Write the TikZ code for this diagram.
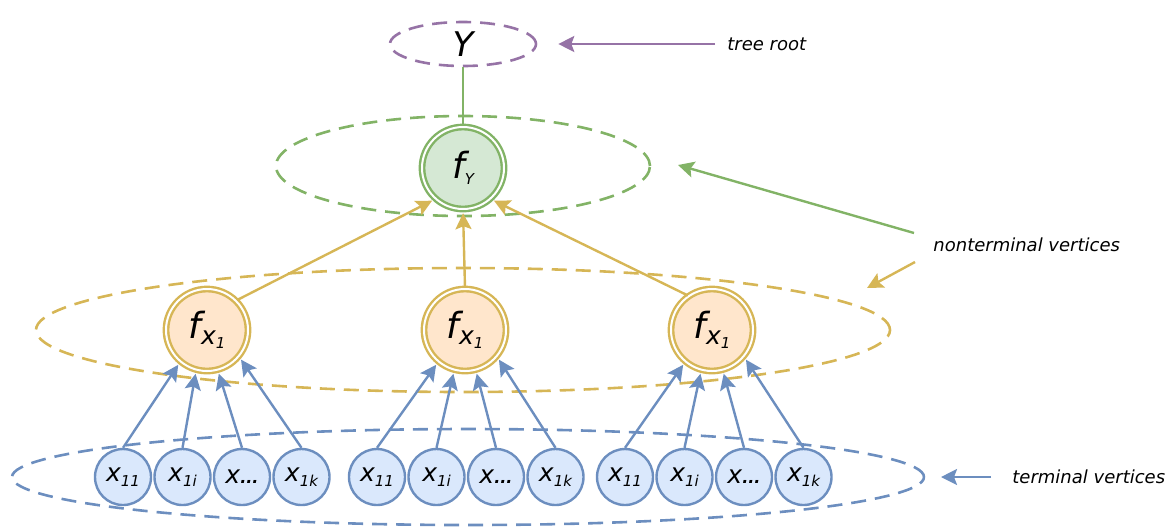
\documentclass[tikz,border=0pt]{standalone}
\usepackage{fontspec}
\setmainfont{DejaVu Sans}
\usetikzlibrary{shapes.geometric,arrows.meta}

\definecolor{purpleline}{HTML}{9673A6}
\definecolor{greenline}{HTML}{82B366}
\definecolor{greenfill}{HTML}{D5E8D4}
\definecolor{yellowline}{HTML}{D6B656}
\definecolor{yellowfill}{HTML}{FFE6CC}
\definecolor{blueline}{HTML}{6C8EBF}
\definecolor{bluefill}{HTML}{DAE8FC}

\newcommand{\xvar}[1]{{\fontsize{12.5}{14}\selectfont\itshape x\raisebox{-2.5pt}{\fontsize{7.5}{9}\selectfont #1}}}
\newcommand{\xdots}{{\fontsize{12.5}{14}\selectfont\itshape x{\fontsize{8}{9}\selectfont\bfseries ...}}}
\newcommand{\fvar}[1]{{\fontsize{18}{20}\selectfont\itshape f\raisebox{-3pt}{#1}}}

\tikzset{
  grp/.style={dash pattern=on 7.5pt off 4.5pt, line width=1.3pt},
  xnode/.style={circle, draw=blueline, fill=bluefill, line width=1.2pt, minimum size=28pt, inner sep=0pt},
  fnode/.style={circle, double=white, double distance=1pt, line width=1.2pt, minimum size=41pt, inner sep=0pt},
  arr/.style={line width=1.2pt, -{Stealth[length=8pt,width=8pt,inset=1.5pt]}},
  lbl/.style={font=\fontsize{9}{11}\selectfont\itshape, anchor=west, inner sep=0pt},
}

\begin{document}
\begin{tikzpicture}[x=0.5pt,y=-0.5pt]
  \useasboundingbox (0,0) rectangle (1170,526);
  % group outlines
  \draw [grp, greenline] (463,166) ellipse (93.5pt and 25pt);
  \draw [grp, yellowline] (463,330) ellipse (213.5pt and 31pt);
  \draw [grp, blueline] (468,477) ellipse (228pt and 24pt);

  % tree
  \node [ellipse, draw=purpleline, grp, minimum width=73pt, minimum height=22pt, inner sep=0pt,
    font=\fontsize{17}{20}\selectfont\itshape] (root) at (463,44) {Y};
  \node [fnode, draw=greenline, fill=greenfill] (fY) at (463,168) {\fvar{\fontsize{7.5}{8}\selectfont Y}};
  \node [fnode, draw=yellowline, fill=yellowfill] (f1) at (207,330) {\fvar{\fontsize{12.5}{14}\selectfont x\raisebox{-2pt}{\fontsize{7.5}{8}\selectfont 1}}};
  \node [fnode, draw=yellowline, fill=yellowfill] (f2) at (465,330) {\fvar{\fontsize{12.5}{14}\selectfont x\raisebox{-2pt}{\fontsize{7.5}{8}\selectfont 1}}};
  \node [fnode, draw=yellowline, fill=yellowfill] (f3) at (712,330) {\fvar{\fontsize{12.5}{14}\selectfont x\raisebox{-2pt}{\fontsize{7.5}{8}\selectfont 1}}};

  \draw [greenline, line width=1.2pt] (root.south) -- (fY.north);
  \draw [arr, yellowline, shorten >=1.5pt] (f1.45) -- (fY.228);
  \draw [arr, yellowline, shorten >=1.5pt] (f2.north) -- (fY.south);
  \draw [arr, yellowline, shorten >=1.5pt] (f3.125) -- (fY.312);

  % terminal vertices
  \foreach \g/\sx in {1/123,2/377,3/625} {
    \foreach \j/\lab/\ang in {1/\xvar{11}/-130,2/\xvar{1i}/-105,3/\xdots/-75,4/\xvar{1k}/-40} {
      \node [xnode] (x\g\j) at ({\sx+59.5*(\j-1)},477) {\lab};
      \draw [arr, blueline, shorten >=1.5pt] (x\g\j.north) -- (f\g.\ang);
    }
  }

  % notes
  \node [lbl] (troot) at (727,44) {tree root};
  \draw [arr, purpleline, shorten <=6pt, shorten >=10.5pt] (troot.west) -- (root.east);
  \node [lbl] (nonterm) at (933,245) {nonterminal vertices};
  \coordinate (gstart) at (914,233);
  \coordinate (gtip) at (678,165);
  \coordinate (ystart) at (915,262);
  \coordinate (ytip) at (867,288);
  \draw [arr, greenline] (gstart) -- (gtip);
  \draw [arr, yellowline] (ystart) -- (ytip);
  \node [lbl] (term) at (1012,477) {terminal vertices};
  \coordinate (btip) at (941,477);
  \draw [arr, blueline, shorten <=10.5pt] (term.west) -- (btip);
\end{tikzpicture}
\end{document}
